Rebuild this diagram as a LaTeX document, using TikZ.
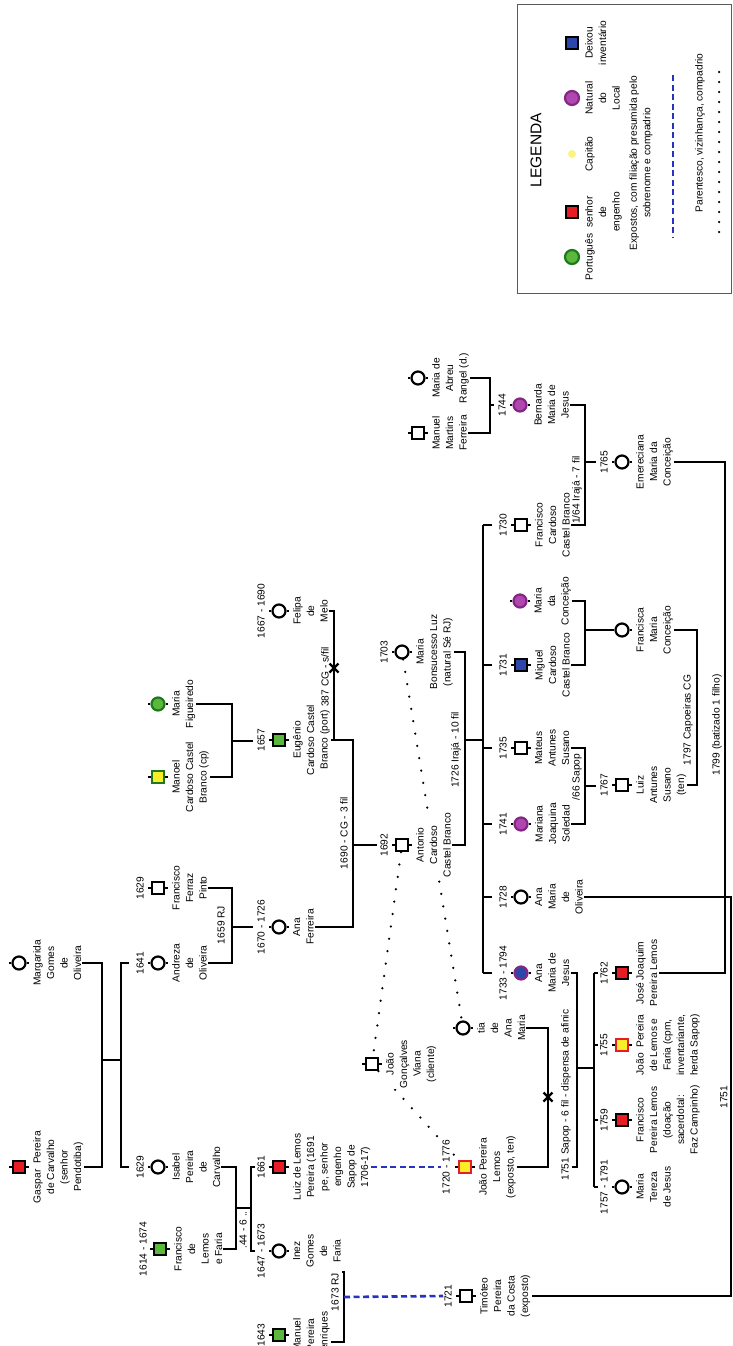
\documentclass[tikz,border=0pt]{standalone}
\usepackage{fontspec}
\setmainfont{Liberation Sans}
\usetikzlibrary{calc}
\pgfdeclarelayer{bg}
\pgfsetlayers{bg,main}
\definecolor{sred}{RGB}{232,28,36}
\definecolor{sgreen}{RGB}{92,184,60}
\definecolor{dgreen}{RGB}{30,120,30}
\definecolor{syellow}{RGB}{250,238,40}
\definecolor{lyellow}{RGB}{250,245,130}
\definecolor{spurple}{RGB}{176,70,176}
\definecolor{dpurple}{RGB}{130,40,130}
\definecolor{sblue}{RGB}{45,70,170}
\definecolor{dblue}{RGB}{40,50,190}
\definecolor{lgray}{RGB}{90,90,90}
\newcommand{\gtf}{\fontsize{10.2}{13.5}\selectfont}
\newcommand\pers[5]{%
  \node[#4] (#1) at (#2,#3) {};
  \draw[line width=1.6pt] (#1.west) -- ++(-2.5,0) (#1.east) -- ++(2.5,0);
  \node[txt] (#1t) at (#2+13,#3) {#5};
}
\newcommand\yr[4]{\node[yl] (#1) at (#2,#3) {#4};}
\newcommand\xmk[2]{\draw[line width=2.3pt] (#1-4.5,#2-4.5) -- (#1+4.5,#2+4.5) (#1-4.5,#2+4.5) -- (#1+4.5,#2-4.5);}
\begin{document}
\begin{tikzpicture}[x=1pt,y=-1pt,
  sym/.style={draw=black,line width=2.2pt,inner sep=0pt,fill=white},
  sq/.style={sym,rectangle,minimum size=12pt},
  ci/.style={sym,circle,minimum size=13pt},
  txt/.style={rotate=90,anchor=north,align=center,font=\gtf,inner sep=1pt,fill=white},
  yl/.style={rotate=90,font=\gtf,inner sep=1pt,align=center,fill=white},
  ln/.style={line width=2.3pt},
  bdash/.style={line width=2.6pt,draw=dblue,dash pattern=on 6pt off 3.5pt},
  dotl/.style={line width=2.5pt,dash pattern=on 0pt off 12.5pt,line cap=round},
]
\useasboundingbox (0,0) rectangle (733,1346);
\clip (0,0) rectangle (733,1346);
\begin{pgfonlayer}{bg}
\fill[white] (0,0) rectangle (733,1346);
\end{pgfonlayer}

% ---------------- legend
\node[draw=lgray,line width=1pt,minimum width=214pt,minimum height=288pt,inner sep=0pt] (legend) at (624,149) {};
\node[rotate=90,font=\fontsize{15.5}{18}\selectfont] (legt) at (536,150) {LEGENDA};
\node[sym,circle,minimum size=14pt,fill=sgreen,draw=dgreen] (lg1) at (572,257) {};
\node[sym,rectangle,minimum size=12.5pt,fill=sred] (lg2) at (572,212) {};
\node[circle,inner sep=0pt,minimum size=8pt,fill=lyellow] (lg3) at (572,154) {};
\node[sym,circle,minimum size=14pt,fill=spurple,draw=dpurple] (lg4) at (572,98) {};
\node[sym,rectangle,minimum size=12.5pt,fill=sblue] (lg5) at (572,43) {};
\node[txt,fill=none] (lgt1) at (584,257) {Português};
\node[txt,fill=none] (lgt2) at (584,212) {senhor\\de\\engenho};
\node[txt,fill=none] (lgt3) at (584,154) {Capitão};
\node[txt,fill=none] (lgt4) at (584,98) {Natural\\do\\Local};
\node[txt,fill=none] (lgt5) at (584,43) {Deixou\\inventário};
\node[yl,fill=none] (lgt6) at (641,163) {Expostos, com filiação presumida pelo\\sobrenome e compadrio};
\coordinate (lgb1) at (673,75); \coordinate (lgb2) at (673,238);
\draw[bdash] (lgb1) -- (lgb2);
\node[yl,fill=none] (lgt7) at (700,133) {Parentesco, vizinhança, compadrio};
\coordinate (lgd1) at (719,72); \coordinate (lgd2) at (719,240);
\draw[dotl,dash pattern=on 0pt off 10pt] (lgd1) -- (lgd2);

% ---------------- persons
\pers{gas}{19}{1167}{sq,fill=sred}{Gaspar\ \ Pereira\\de Carvalho\\(senhor\\Pendotiba)}
\pers{mar}{19}{963}{ci}{Margarida\\Gomes\\de\\Oliveira}
\pers{isa}{158}{1167}{ci}{Isabel\\Pereira\\de\\Carvalho}
\pers{adr}{158}{963}{ci}{Andreza\\de\\Oliveira}
\pers{ffp}{158}{888}{sq}{Francisco\\Ferraz\\Pinto}
\pers{fle}{160}{1249}{sq,fill=sgreen}{Francisco\\de\\Lemos\\e Faria}
\pers{man}{158}{777}{sq,fill=syellow,draw=dgreen}{Manoel\\Cardoso Castel\\Branco (cp)}
\pers{mfi}{158}{704}{ci,fill=sgreen,draw=dgreen}{Maria\\Figueiredo}
\pers{eug}{279}{740}{sq,fill=sgreen}{Eugênio\\Cardoso Castel\\Branco (port)}
\pers{fel}{279}{611}{ci}{Felipa\\de\\Melo}
\pers{anf}{279}{927}{ci}{Ana\\Ferreira}
\pers{llp}{279}{1167}{sq,fill=sred}{Luiz de Lemos\\Pereira (1691\\pe, senhor\\engenho\\Sapop de\\1706-17)}
\pers{ine}{279}{1251}{ci}{Inez\\Gomes\\de\\Faria}
\pers{mph}{279}{1335}{sq,fill=sgreen}{Manuel\\Pereira\\Henriques}
\pers{ant}{402}{845}{sq}{Antonio\\Cardoso\\Castel Branco}
\pers{mbl}{402}{652}{ci}{Maria\\Bonsucesso Luz\\(natural Sé RJ)}
\pers{jgv}{372}{1064}{sq}{João\\Gonçalves\\Viana\\(cliente)}
\pers{tia}{463}{1028}{ci}{tia\\de\\Ana\\Maria}
\pers{jpl}{465}{1167}{sq,fill=syellow,draw=sred}{João Pereira\\Lemos\\(exposto, ten)}
\pers{tim}{466}{1296}{sq}{Timóteo\\Pereira\\da Costa\\(exposto)}
\pers{mmf}{418}{433}{sq}{Manuel\\Martins\\Ferreira}
\pers{mab}{418}{378}{ci}{Maria de\\Abreu\\Rangel (d.)}
\pers{ber}{520}{405}{ci,fill=spurple,draw=dpurple}{Bernarda\\Maria de\\Jesus}
\pers{fcc}{521}{525}{sq}{Francisco\\Cardoso\\Castel Branco}
\pers{mdc}{520}{601}{ci,fill=spurple,draw=dpurple}{Maria\\da\\Conceição}
\pers{mig}{521}{665}{sq,fill=sblue}{Miguel\\Cardoso\\Castel Branco}
\pers{mat}{521}{748}{sq}{Mateus\\Antunes\\Susano}
\pers{mrn}{521}{824}{ci,fill=spurple,draw=dpurple}{Mariana\\Joaquina\\Soledad}
\pers{amo}{521}{897}{ci}{Ana\\Maria\\de\\Oliveira}
\pers{amj}{521}{973}{ci,fill=sblue,draw=dpurple}{Ana\\Maria de\\Jesus}
\pers{eme}{622}{462}{ci}{Emereciana\\Maria da\\Conceição}
\pers{fra}{622}{630}{ci}{Francisca\\Maria\\Conceição}
\pers{lan}{622}{785}{sq}{Luiz\\Antunes\\Susano\\(ten)}
\pers{jjp}{622}{973}{sq,fill=sred}{José Joaquim\\Pereira Lemos}
\pers{jlf}{622}{1045}{sq,fill=syellow,draw=sred}{João\ \ Pereira\\de Lemos e\\Faria (cpm,\\inventariante,\\herda Sapop)}
\pers{fpl}{622}{1120}{sq,fill=sred}{Francisco\\Pereira Lemos\\(doação\\sacerdotal:\\Faz Campinho)}
\pers{mtj}{622}{1187}{ci}{Maria\\Tereza\\de Jesus}

% ---------------- years
\yr{ffpy}{140}{888}{1629}
\yr{adry}{140}{963}{1641}
\yr{isay}{140}{1167}{1629}
\yr{fley}{143}{1249}{1614 - 1674}
\yr{eugy}{261}{740}{1657}
\yr{fely}{261}{611}{1667 - 1690}
\yr{anfy}{261}{927}{1670 - 1726}
\yr{llpy}{261}{1167}{1661}
\yr{iney}{261}{1251}{1647 - 1673}
\yr{mphy}{261}{1335}{1643}
\yr{anty}{384}{845}{1692}
\yr{mbly}{384}{652}{1703}
\yr{jply}{446}{1167}{1720 - 1776}
\yr{timy}{448}{1296}{1721}
\yr{bery}{502}{405}{1744}
\yr{fccy}{503}{525}{1730}
\yr{migy}{503}{665}{1731}
\yr{maty}{503}{748}{1735}
\yr{mrny}{503}{824}{1741}
\yr{amoy}{503}{897}{1728}
\yr{amjy}{503}{973}{1733 - 1794}
\yr{emey}{604}{462}{1765}
\yr{lany}{604}{785}{1767}
\yr{jjpy}{604}{973}{1762}
\yr{jlfy}{604}{1045}{1755}
\yr{fply}{604}{1120}{1759}
\yr{mtjy}{604}{1187}{1757 - 1791}

% ---------------- marriage labels
\yr{m1}{221}{925}{1659 RJ}
\yr{m2}{243}{1230}{.44 - 6 ..}
\yr{m3}{325}{677}{387 CG - s/fil}
\yr{m4}{344}{833}{1690 - CG - 3 fil}
\yr{m5}{456}{750}{1726 Irajá - 10 fil}
\yr{m6}{577}{490}{1/64 Irajá - 7 fil}
\yr{m7}{577}{777}{/66 Sapop}
\yr{m8}{688}{720}{1797 Capoeiras CG}
\yr{m9}{717}{725}{1799 (batizado 1 filho)}
\yr{m10}{724}{1097}{1751}
\yr{m11}{566}{1095}{1751 Sapop - 6 fil - dispensa de afinic}
\yr{m12}{335}{1292}{1673 RJ}

% ---------------- family lines
\draw[ln] (mart.south) -- (102,963) -- (102,1167) -- (gast.south);
\draw[ln] (102,1060) -- (121,1060);
\draw[ln] (129,963) -- (121,963) -- (121,1167) -- (129,1167);

\draw[ln] (ffpt.south) -- (232,888) -- (232,963) -- (adrt.south);
\draw[ln] (232,927) -- (253,927);
\draw[ln] (mfit.south) -- (232,704) -- (232,777) -- (mant.south);
\draw[ln] (232,741) -- (253,741);

\draw[ln] (isat.south) -- (236,1167) -- (236,1249) -- (flet.south);
\draw[ln] (236,1208) -- (251,1208);
\draw[ln] (255,1167) -- (251,1167) -- (251,1251) -- (255,1251);

\draw[ln] (felt.south) -- (334,611) -- (334,740);
\xmk{334}{668}
\draw[ln] (eugt.south) -- (353,740) -- (353,927) -- (anft.south);
\draw[ln] (353,845) -- (377,845);

\draw[ln] (mblt.south) -- (465,652) -- (465,845) -- (antt.south);
\draw[ln] (465,740) -- (483,740);
\draw[ln] (483,525) -- (483,973);
\foreach \yy in {525,665,748,824,897,973} \draw[ln] (483,\yy) -- (492,\yy);

\draw[ln] (mabt.south) -- (490,378) -- (490,433) -- (mmft.south);
\draw[ln] (490,405) -- (494,405);

\draw[ln] (bert.south) -- (585,405) -- (585,525) -- (fcct.south);
\draw[ln] (585,462) -- (596,462);
\draw[ln] (mdct.south) -- (585,601) -- (585,665) -- (migt.south);
\draw[ln] (585,630) -- (fra.west);
\draw[ln] (matt.south) -- (585,748) -- (585,824) -- (mrnt.south);
\draw[ln] (585,786) -- (596,786);

\draw[ln] (frat.south) -- (697,630) -- (697,785) -- (lant.south);
\draw[ln] (emet.south) -- (725,462) -- (725,973) -- (jjpt.south);
\draw[ln] (amot.south) -- (731,897) -- (731,1296) -- (timt.south);

\draw[ln] (amjt.south) -- (577,973) -- (577,1167) -- (572,1167);
\draw[ln] (577,1068) -- (594,1068);
\draw[ln] (594,973) -- (594,1187);
\foreach \yy in {973,1045,1120,1187} \draw[ln] (594,\yy) -- (598,\yy);

\draw[ln] (tiat.south) -- (548,1028) -- (548,1167) -- (jplt.south);
\xmk{548}{1097}

\draw[ln] (inet.south |- 0,1272) -- (344,1272) -- (344,1342) -- (mpht.south |- 0,1342);

% ---------------- dashed and dotted relations
\draw[bdash] (344,1297) -- (timy.north);
\draw[bdash] (llpt.south) -- (jply.north);
\begin{pgfonlayer}{bg}
\draw[dotl] (mbl) -- (tia);
\draw[dotl] (ant) -- (jgv);
\draw[dotl] (jgv) -- (jpl);
\end{pgfonlayer}
\end{tikzpicture}
\end{document}
